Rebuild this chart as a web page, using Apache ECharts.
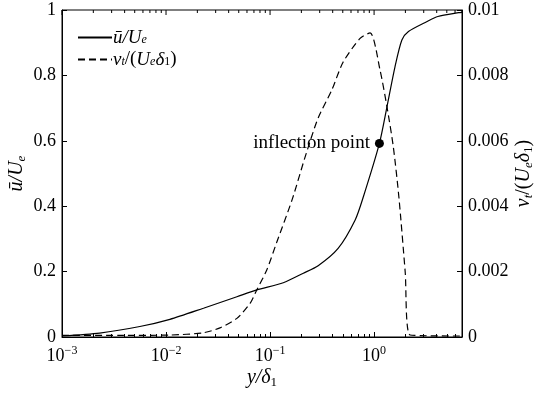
<!DOCTYPE html>
<html>
<head>
<meta charset="utf-8">
<script src="https://cdn.jsdelivr.net/npm/echarts@6/dist/echarts.min.js"></script>
<style>
  html, body { margin: 0; padding: 0; background: #fff; }
  #chart { width: 535px; height: 396px; }
</style>
</head>
<body>
<div id="chart"></div>
<script>
// mean velocity profile u/Ue vs y/delta1
var uY = [0.001, 0.0023, 0.0056, 0.0109, 0.0229, 0.048, 0.0745, 0.134, 0.209, 0.29, 0.451, 0.658, 0.789, 1.125, 1.33, 1.59, 1.85, 2.14, 3.2, 4.1, 6.5, 7.0];
var uVal = [0.003, 0.012, 0.032, 0.054, 0.088, 0.123, 0.144, 0.166, 0.195, 0.218, 0.271, 0.358, 0.429, 0.592, 0.704, 0.827, 0.908, 0.934, 0.964, 0.98, 0.992, 0.993];

// eddy viscosity nu_t/(Ue delta1)
var nuY = [0.001, 0.0036, 0.0109, 0.0229, 0.033, 0.048, 0.0643, 0.0745, 0.093, 0.116, 0.163, 0.217, 0.290, 0.392, 0.503, 0.733, 0.916, 1.14, 1.33, 1.53, 1.73, 1.99, 2.22, 7.0];
var nuVal = [0.00005, 0.00005, 0.00006, 0.00013, 0.00028, 0.00057, 0.00103, 0.00144, 0.00205, 0.0029, 0.0042, 0.0055, 0.0067, 0.00755, 0.0084, 0.00913, 0.0093, 0.00817, 0.00704, 0.00582, 0.00429, 0.0020, 0.00006, 0.00003];

var inflection = [1.125, 0.592];
var seriesNames = ['u', 'nu'];

// tick positions for the top frame (decades and 2..9 minors)
var topTicks = [];
for (var d = -3; d <= 0; d++) {
  for (var k = 1; k <= 9; k++) {
    var v = k * Math.pow(10, d);
    if (v <= 7) topTicks.push([v, k === 1 ? 1 : 0]);
  }
}

var font = 'Liberation Serif';
var it = { fontFamily: font, fontSize: 20, fontStyle: 'italic', lineHeight: 22, color: '#000' };
var rm = { fontFamily: font, fontSize: 20, lineHeight: 22, color: '#000' };
var sub = { fontFamily: font, fontSize: 13, fontStyle: 'italic', verticalAlign: 'bottom', lineHeight: 22, color: '#000' };
var subUp = { fontFamily: font, fontSize: 13, verticalAlign: 'bottom', lineHeight: 22, color: '#000' };
var rich = {
  i: it, r: rm, s: sub, su: subUp,
  sup: { fontFamily: font, fontSize: 12, verticalAlign: 'top', lineHeight: 22, color: '#000' },
  n: { fontFamily: font, fontSize: 18, lineHeight: 22, color: '#000' }
};
var legRich = {
  i: Object.assign({}, it, { fontSize: 19, lineHeight: 17 }),
  r: Object.assign({}, rm, { fontSize: 19, lineHeight: 17 }),
  s: Object.assign({}, sub, { fontSize: 12, lineHeight: 17 }),
  su: Object.assign({}, subUp, { fontSize: 12, lineHeight: 17 })
};

var chart = echarts.init(document.getElementById('chart'));
chart.setOption({
  animation: false,
  backgroundColor: '#fff',
  grid: {
    left: 62, right: 73, top: 10, bottom: 59,
    outerBoundsMode: 'none', containLabel: false,
    show: true, borderColor: '#000', borderWidth: 1, backgroundColor: 'transparent'
  },
  legend: {
    data: seriesNames,
    orient: 'vertical',
    left: 72,
    top: 23,
    itemWidth: 34,
    itemHeight: 10,
    itemGap: 3,
    itemStyle: { opacity: 0 },
    textStyle: { rich: legRich, padding: [0, 0, 0, -4] },
    formatter: function (name) {
      return name === 'u' ? '{i|ū/U}{s|e}' : '{i|ν}{s|t}{r|/(}{i|U}{s|e}{i|δ}{su|1}{r|)}';
    }
  },
  xAxis: {
    type: 'log',
    logBase: 10,
    min: 0.001,
    max: 7,
    name: '{i|y/δ}{su|1}',
    nameLocation: 'middle',
    nameGap: 30,
    nameMoveOverlap: false,
    nameTextStyle: { rich: rich },
    axisLine: { onZero: false, lineStyle: { color: '#000', width: 1 } },
    axisTick: { show: true, inside: true, length: 5, lineStyle: { color: '#000' } },
    minorTick: { show: true, splitNumber: 9, length: 3, lineStyle: { color: '#000' } },
    splitLine: { show: false },
    axisLabel: {
      margin: 8,
      showMaxLabel: false,
      rich: rich,
      formatter: function (v) {
        return '{n|10}{sup|' + Math.round(Math.log10(v)).toString().replace('-', '−') + '}';
      }
    }
  },
  yAxis: [{
    type: 'value',
    min: 0,
    max: 1,
    interval: 0.2,
    name: '{i|ū/U}{s|e}',
    nameLocation: 'middle',
    nameRotate: 90,
    nameGap: 34,
    nameMoveOverlap: false,
    nameTextStyle: { rich: rich },
    axisLine: { show: true, lineStyle: { color: '#000', width: 1 } },
    axisTick: { show: true, inside: true, length: 5, lineStyle: { color: '#000' } },
    splitLine: { show: false },
    axisLabel: { margin: 6, fontFamily: font, fontSize: 18, color: '#000' }
  }, {
    type: 'value',
    min: 0,
    max: 0.01,
    interval: 0.002,
    position: 'right',
    name: '{i|ν}{s|t}{r|/(}{i|U}{s|e}{i|δ}{su|1}{r|)}',
    nameLocation: 'middle',
    nameRotate: 90,
    nameGap: 51,
    nameMoveOverlap: false,
    nameTextStyle: { rich: rich },
    axisLine: { show: true, lineStyle: { color: '#000', width: 1 } },
    axisTick: { show: true, inside: true, length: 5, lineStyle: { color: '#000' } },
    splitLine: { show: false },
    axisLabel: { margin: 6, fontFamily: font, fontSize: 18, color: '#000' }
  }],
  series: [{
    name: 'u',
    type: 'line',
    data: uY.map(function (x, i) { return [x, uVal[i]]; }),
    smooth: 0.25,
    showSymbol: false,
    symbol: 'none',
    lineStyle: { color: '#000', width: 1.2 },
    itemStyle: { color: '#000' },
    z: 3
  }, {
    name: 'nu',
    type: 'line',
    yAxisIndex: 1,
    data: nuY.map(function (x, i) { return [x, nuVal[i]]; }),
    smooth: 0.25,
    showSymbol: false,
    symbol: 'none',
    lineStyle: { color: '#000', width: 1.2, type: [7, 4] },
    itemStyle: { color: '#000' },
    z: 2
  }, {
    name: 'inflection',
    type: 'scatter',
    data: [inflection],
    symbolSize: 9,
    itemStyle: { color: '#000', opacity: 1 },
    label: {
      show: true,
      position: 'left',
      distance: 5,
      formatter: 'inflection point',
      fontFamily: font,
      fontSize: 19,
      color: '#000'
    },
    z: 5
  }, {
    // top frame ticks
    name: 'topTicks',
    type: 'custom',
    silent: true,
    clip: false,
    data: topTicks,
    renderItem: function (params, api) {
      var p = api.coord([api.value(0), 1]);
      var len = api.value(1) ? 5 : 3;
      return {
        type: 'line',
        shape: { x1: p[0], y1: p[1], x2: p[0], y2: p[1] + len },
        style: { stroke: '#000', lineWidth: 1 }
      };
    },
    z: 4
  }]
});
</script>
</body>
</html>
